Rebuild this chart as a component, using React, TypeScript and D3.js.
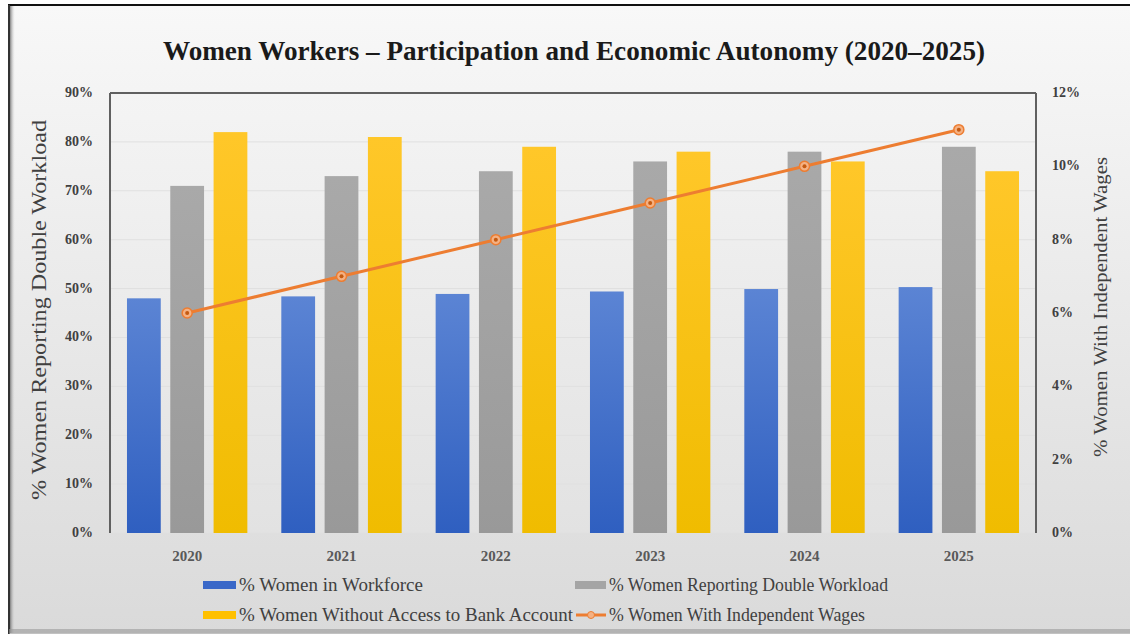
import React from "react";
import * as d3 from "d3";

const years = ["2020", "2021", "2022", "2023", "2024", "2025"];
const workforce = [48, 48.4, 48.9, 49.4, 49.9, 50.3];
const doubleWorkload = [71, 73, 74, 76, 78, 79];
const noBankAccount = [82, 81, 79, 78, 76, 74];
const independentWages = [6, 7, 8, 9, 10, 11];
const leftTicks = [0, 10, 20, 30, 40, 50, 60, 70, 80, 90];
const rightTicks = [0, 2, 4, 6, 8, 10, 12];
const seriesNames = [
  "% Women in Workforce",
  "% Women Reporting Double Workload",
  "% Women Without Access to Bank Account",
  "% Women With Independent Wages",
];

const W = 1130;
const H = 634;
const plot = { left: 110, right: 1036, top: 93, bottom: 533 };
const serif = "'Liberation Serif', 'Times New Roman', serif";

export default function App() {
  const x = d3.scaleBand<string>().domain(years).range([plot.left, plot.right]).paddingInner(0.22).paddingOuter(0.11);
  const xs = d3.scaleBand<string>().domain(["a", "b", "c"]).range([0, x.bandwidth()]).paddingInner(0.22);
  const yL = d3.scaleLinear().domain([0, 90]).range([plot.bottom, plot.top]);
  const yR = d3.scaleLinear().domain([0, 12]).range([plot.bottom, plot.top]);
  const bars = [
    { key: "a", data: workforce, fill: "url(#gBlue)" },
    { key: "b", data: doubleWorkload, fill: "url(#gGray)" },
    { key: "c", data: noBankAccount, fill: "url(#gYellow)" },
  ];
  const cx = (yr: string) => (x(yr) as number) + x.bandwidth() / 2;
  const line = d3
    .line<number>()
    .x((_, i) => cx(years[i]))
    .y((d) => yR(d));

  return (
    <div style={{ position: "absolute", left: 0, top: 0 }}>
      <svg width={W} height={H} style={{ display: "block" }}>
        <defs>
          <linearGradient id="gBg" x1="0" y1="0" x2="0" y2="1">
            <stop offset="0" stopColor="#f8f8f8" />
            <stop offset="1" stopColor="#dadada" />
          </linearGradient>
          <linearGradient id="gPlot" x1="0" y1="0" x2="0" y2="1">
            <stop offset="0" stopColor="#f4f4f4" />
            <stop offset="1" stopColor="#e2e2e2" />
          </linearGradient>
          <linearGradient id="gBlue" x1="0" y1="0" x2="0" y2="1">
            <stop offset="0" stopColor="#5b84d4" />
            <stop offset="1" stopColor="#2f5fc0" />
          </linearGradient>
          <linearGradient id="gGray" x1="0" y1="0" x2="0" y2="1">
            <stop offset="0" stopColor="#a9a9a9" />
            <stop offset="1" stopColor="#999999" />
          </linearGradient>
          <linearGradient id="gYellow" x1="0" y1="0" x2="0" y2="1">
            <stop offset="0" stopColor="#ffc729" />
            <stop offset="1" stopColor="#f0bc00" />
          </linearGradient>
          <linearGradient id="gShadeL" x1="0" y1="0" x2="1" y2="0">
            <stop offset="0" stopColor="#555" />
            <stop offset="1" stopColor="#ddd" stopOpacity="0" />
          </linearGradient>
        </defs>
        <rect x={0} y={0} width={W} height={H} fill="#ffffff" />
        <rect x={9} y={5} width={W - 9} height={H - 6} fill="url(#gBg)" />
        <rect x={9} y={5} width={6} height={H - 6} fill="url(#gShadeL)" />
        <line x1={8} x2={W} y1={5} y2={5} stroke="#111" strokeWidth={2} />
        <line x1={9} x2={9} y1={5} y2={H} stroke="#333" strokeWidth={2} />
        <rect x={9} y={H - 5} width={W - 9} height={5} fill="#9a9a9a" opacity={0.6} />

        <text
          x={574}
          y={60}
          textAnchor="middle"
          fontFamily={serif}
          fontWeight="bold"
          fontSize={28}
          fill="#1a1a1a"
          textLength={822}
          lengthAdjust="spacingAndGlyphs"
        >
          Women Workers – Participation and Economic Autonomy (2020–2025)
        </text>

        <rect x={plot.left} y={plot.top} width={plot.right - plot.left} height={plot.bottom - plot.top} fill="url(#gPlot)" />
        {leftTicks.map((t) => (
          <line key={t} x1={plot.left} x2={plot.right} y1={yL(t)} y2={yL(t)} stroke="#e0e0e0" strokeWidth={1} />
        ))}

        {bars.map((s) =>
          years.map((yr, i) => (
            <rect
              key={s.key + yr}
              x={(x(yr) as number) + (xs(s.key) as number)}
              y={yL(s.data[i])}
              width={xs.bandwidth()}
              height={plot.bottom - yL(s.data[i])}
              fill={s.fill}
            />
          ))
        )}

        <path d={line(independentWages) || ""} fill="none" stroke="#ed7d31" strokeWidth={3} />
        {independentWages.map((v, i) => (
          <g key={i}>
            <circle cx={cx(years[i])} cy={yR(v)} r={5} fill="#f4b183" stroke="#ed7d31" strokeWidth={1.5} />
            <circle cx={cx(years[i])} cy={yR(v)} r={2} fill="#c55a11" />
          </g>
        ))}

        <line x1={plot.left} x2={plot.right} y1={plot.top} y2={plot.top} stroke="#606060" strokeWidth={2} />
        <line x1={plot.left} x2={plot.left} y1={plot.top} y2={plot.bottom} stroke="#606060" strokeWidth={2} />
        <line x1={plot.right} x2={plot.right} y1={plot.top} y2={plot.bottom} stroke="#606060" strokeWidth={2} />

        {leftTicks.map((t) => (
          <text key={t} x={93} y={yL(t) + 4} textAnchor="end" fontFamily={serif} fontWeight="bold" fontSize={14} fill="#404040">
            {t}%
          </text>
        ))}
        {rightTicks.map((t) => (
          <text key={t} x={1052} y={yR(t) + 4} textAnchor="start" fontFamily={serif} fontWeight="bold" fontSize={14} fill="#404040">
            {t}%
          </text>
        ))}
        {years.map((yr) => (
          <text key={yr} x={cx(yr)} y={561} textAnchor="middle" fontFamily={serif} fontWeight="bold" fontSize={15} fill="#595959">
            {yr}
          </text>
        ))}

        <text
          transform={`translate(46,310) rotate(-90)`}
          textAnchor="middle"
          fontFamily={serif}
          fontSize={20}
          fill="#404040"
          textLength={380}
          lengthAdjust="spacingAndGlyphs"
        >
          {seriesNames[1]}
        </text>
        <text
          transform={`translate(1107,307) rotate(-90)`}
          textAnchor="middle"
          fontFamily={serif}
          fontSize={18}
          fill="#404040"
          textLength={300}
          lengthAdjust="spacingAndGlyphs"
        >
          {seriesNames[3]}
        </text>

        {/* legend */}
        <rect x={203} y={581} width={33} height={8} fill="#3a68c8" />
        <text x={239} y={591} fontFamily={serif} fontSize={18} fill="#404040" textLength={184} lengthAdjust="spacingAndGlyphs">{seriesNames[0]}</text>
        <rect x={575} y={581} width={31} height={8} fill="#a5a5a5" />
        <text x={609} y={591} fontFamily={serif} fontSize={18} fill="#404040" textLength={279} lengthAdjust="spacingAndGlyphs">{seriesNames[1]}</text>
        <rect x={203} y={611} width={33} height={8} fill="#ffc000" />
        <text x={239} y={621} fontFamily={serif} fontSize={18} fill="#404040" textLength={334} lengthAdjust="spacingAndGlyphs">{seriesNames[2]}</text>
        <line x1={576} x2={606} y1={615} y2={615} stroke="#ed7d31" strokeWidth={3} />
        <circle cx={591} cy={615} r={3.5} fill="#f4b183" stroke="#ed7d31" strokeWidth={1} />
        <text x={609} y={621} fontFamily={serif} fontSize={18} fill="#404040" textLength={256} lengthAdjust="spacingAndGlyphs">{seriesNames[3]}</text>
      </svg>
    </div>
  );
}
